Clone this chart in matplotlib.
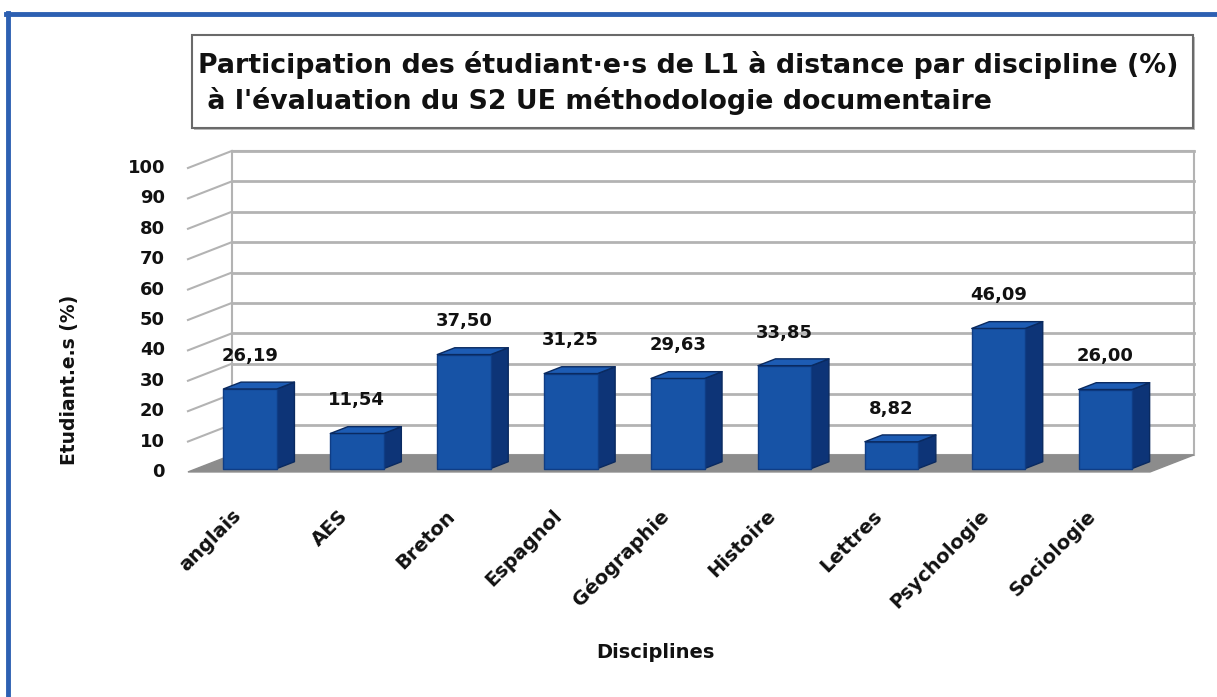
import matplotlib
matplotlib.use("Agg")
import matplotlib.pyplot as plt
from matplotlib.patches import Polygon, Rectangle
from matplotlib.lines import Line2D

# données
disciplines = ["anglais", "AES", "Breton", "Espagnol", "Géographie",
               "Histoire", "Lettres", "Psychologie", "Sociologie"]
participation = [26.19, 11.54, 37.50, 31.25, 29.63, 33.85, 8.82, 46.09, 26.00]
yticks = list(range(0, 101, 10))

titre1 = "Participation des étudiant·e·s de L1 à distance par discipline (%)"
titre2 = " à l'évaluation du S2 UE méthodologie documentaire"

W, H = 1217, 697
fig = plt.figure(figsize=(W / 100, H / 100), dpi=100)
fig.patch.set_facecolor("white")


def fx(px):
    return px / W


def fy(py):
    return 1 - py / H


# cadre bleu (haut et gauche)
bleu = "#2d60b2"
fig.add_artist(Line2D([fx(8), fx(8)], [fy(13), 0], color=bleu, lw=3.5))
fig.add_artist(Line2D([fx(6), 1], [fy(14), fy(14)], color=bleu, lw=3.5))

# boite du titre
fig.add_artist(Rectangle((fx(194), fy(130)), fx(1001), 93 / H,
                         transform=fig.transFigure, fc="#bbbbbb", ec="none"))
fig.add_artist(Rectangle((fx(192), fy(128)), fx(1001), 93 / H,
                         transform=fig.transFigure, fc="white", ec="#6a6a6a", lw=1.5))
fig.text(fx(198), fy(65), titre1, fontsize=19.3, weight="bold", color="#111111",
         ha="left", va="center")
fig.text(fx(198), fy(101), titre2, fontsize=19.3, weight="bold", color="#111111",
         ha="left", va="center")

ax = fig.add_axes([0.1281, 0.3098, 0.8696, 0.4928])
ax.set_xlim(-0.3, 9.6)
ax.set_ylim(-3, 110)
ax.axis("off")

DX, DY = 0.41, 5.6   # décalage de profondeur
n = len(disciplines)
vmax = yticks[-1]


def p(x, v, d):
    return (x + d * DX, v + d * DY)


gris = "#b3b3b3"
# mur du fond
ax.add_patch(Polygon([p(0, 0, 1), p(n, 0, 1), p(n, vmax, 1), p(0, vmax, 1)],
                     closed=True, fc="white", ec=gris, lw=1.5, zorder=1))
for v in yticks[1:]:
    a, b = p(0, v, 1), p(n, v, 1)
    ax.plot([a[0], b[0]], [a[1], b[1]], color=gris, lw=2, zorder=2)
    a, b = p(0, v, 0), p(0, v, 1)
    ax.plot([a[0], b[0]], [a[1], b[1]], color=gris, lw=1.5, zorder=2)
# sol
ax.add_patch(Polygon([p(0, 0, 0), p(n, 0, 0), p(n, 0, 1), p(0, 0, 1)],
                     closed=True, fc="#8c8c8c", ec="#8c8c8c", lw=1, zorder=3))

for v in yticks:
    ax.text(p(0, v, 0)[0] - 0.215, v, str(v), ha="right", va="center",
            fontsize=13, weight="bold", color="#111111")

# barres 3D
d0, d1 = 0.2, 0.6
for i, val in enumerate(participation):
    x0, x1 = i + 0.25, i + 0.75
    side = [p(x1, 0, d0), p(x1, 0, d1), p(x1, val, d1), p(x1, val, d0)]
    front = [p(x0, 0, d0), p(x1, 0, d0), p(x1, val, d0), p(x0, val, d0)]
    topf = [p(x0, val, d0), p(x1, val, d0), p(x1, val, d1), p(x0, val, d1)]
    ax.add_patch(Polygon(side, closed=True, fc="#0d3477", ec="#0a2a60", lw=1,
                         joinstyle="round", zorder=4))
    ax.add_patch(Polygon(front, closed=True, fc="#1753a6", ec="#0f3d85", lw=1,
                         joinstyle="round", zorder=5))
    ax.add_patch(Polygon(topf, closed=True, fc="#1d5cb4", ec="#0a2a60", lw=1,
                         joinstyle="round", zorder=5))
    ax.text(i + 0.58, val + 12, f"{val:.2f}".replace(".", ","), ha="center",
            va="center", fontsize=13, weight="bold", color="#111111", zorder=6)
    ax.text(i + 0.47, -13.5, disciplines[i], rotation=45, rotation_mode="anchor",
            ha="right", va="center", fontsize=14, weight="bold", color="#111111")

fig.text(fx(655), fy(652), "Disciplines", fontsize=14, weight="bold",
         color="#111111", ha="center", va="center")
fig.text(fx(70), fy(380), "Etudiant.e.s (%)", fontsize=13.5, weight="bold",
         color="#111111", ha="center", va="center", rotation=90)

fig.savefig("out.png", dpi=100, facecolor=fig.get_facecolor())
